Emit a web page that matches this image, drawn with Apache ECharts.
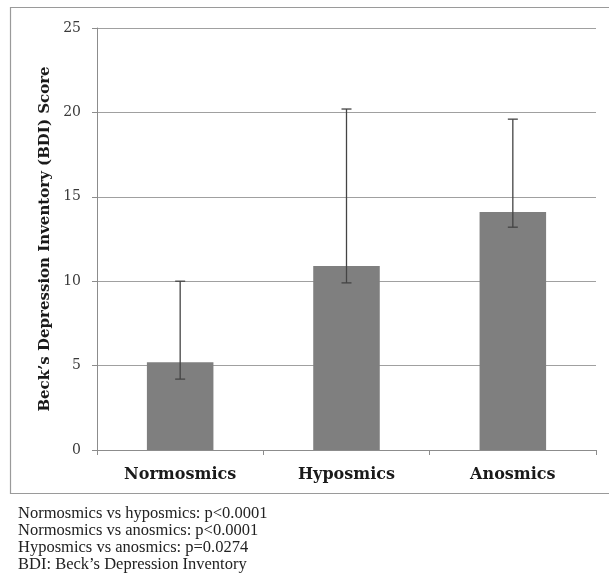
<!DOCTYPE html>
<html>
<head>
<meta charset="utf-8">
<script src="https://cdn.jsdelivr.net/npm/echarts@6/dist/echarts.min.js"></script>
<style>
  html, body { margin: 0; padding: 0; background: #fff; }
  #chart { width: 609px; height: 578px; }
</style>
</head>
<body>
<div id="chart"></div>
<script>
// Groups by olfactory function
const categories = ['Normosmics', 'Hyposmics', 'Anosmics'];
// Mean BDI score per group
const meanScores = [5.2, 10.9, 14.1];
// Error bar ends (upper / lower)
const errorUpper = [10.0, 20.2, 19.6];
const errorLower = [4.2, 9.9, 13.2];
// Y axis ticks
const yTicks = [0, 5, 10, 15, 20, 25];
// Notes printed under the chart
const footnotes = [
  'Normosmics vs hyposmics: p<0.0001',
  'Normosmics vs anosmics: p<0.0001',
  'Hyposmics vs anosmics: p=0.0274',
  'BDI: Beck\u2019s Depression Inventory'
];

const chart = echarts.init(document.getElementById('chart'), null, { renderer: 'canvas' });

const errorData = categories.map((c, i) => [i, errorLower[i], errorUpper[i]]);

const serifLabel = '"DejaVu Serif", "Liberation Serif", serif';

const option = {
  animation: false,
  backgroundColor: '#fff',
  grid: { left: 97, right: 13, top: 28, bottom: 128, containLabel: false },
  xAxis: {
    type: 'category',
    data: categories,
    axisLine: { lineStyle: { color: '#8c8c8c', width: 1 } },
    axisTick: { show: true, length: 5, alignWithLabel: false, lineStyle: { color: '#8c8c8c' } },
    axisLabel: {
      margin: 17,
      color: '#1a1a1a',
      fontFamily: serifLabel,
      fontWeight: 'bold',
      fontSize: 16
    },
    splitLine: { show: false }
  },
  yAxis: {
    type: 'value',
    min: yTicks[0],
    max: yTicks[yTicks.length - 1],
    interval: 5,
    name: 'Beck\u2019s Depression Inventory (BDI) Score',
    nameLocation: 'middle',
    nameGap: 41,
    nameTextStyle: {
      color: '#1a1a1a',
      fontFamily: serifLabel,
      fontWeight: 'bold',
      fontSize: 15
    },
    axisLine: { show: true, lineStyle: { color: '#8c8c8c', width: 1 } },
    axisTick: { show: true, length: 5, lineStyle: { color: '#8c8c8c' } },
    axisLabel: {
      margin: 16,
      color: '#3a3a3a',
      fontFamily: serifLabel,
      fontSize: 14
    },
    splitLine: { show: true, lineStyle: { color: '#a0a0a0', width: 1.2 } }
  },
  series: [
    {
      type: 'bar',
      data: meanScores,
      barWidth: '40%',
      itemStyle: { color: '#7f7f7f' },
      z: 2
    },
    {
      type: 'custom',
      data: errorData,
      z: 3,
      renderItem: function (params, api) {
        const x = api.value(0);
        const lo = api.coord([x, api.value(1)]);
        const hi = api.coord([x, api.value(2)]);
        const half = 5;
        const style = { stroke: '#444', lineWidth: 1.3 };
        return {
          type: 'group',
          children: [
            { type: 'line', shape: { x1: hi[0], y1: hi[1], x2: lo[0], y2: lo[1] }, style: style },
            { type: 'line', shape: { x1: hi[0] - half, y1: hi[1], x2: hi[0] + half, y2: hi[1] }, style: style },
            { type: 'line', shape: { x1: lo[0] - half, y1: lo[1], x2: lo[0] + half, y2: lo[1] }, style: style }
          ]
        };
      }
    }
  ],
  graphic: [
    {
      type: 'rect',
      shape: { x: 10.5, y: 7.5, width: 610, height: 486 },
      style: { fill: 'none', stroke: '#9a9a9a', lineWidth: 1.2 },
      silent: true
    }
  ].concat(footnotes.map((t, i) => ({
    type: 'text',
    left: 18,
    top: 505 + i * 17,
    style: {
      text: t,
      fill: '#222',
      font: '16.5px "Liberation Serif", "Times New Roman", serif'
    }
  })))
};

chart.setOption(option);
</script>
</body>
</html>
